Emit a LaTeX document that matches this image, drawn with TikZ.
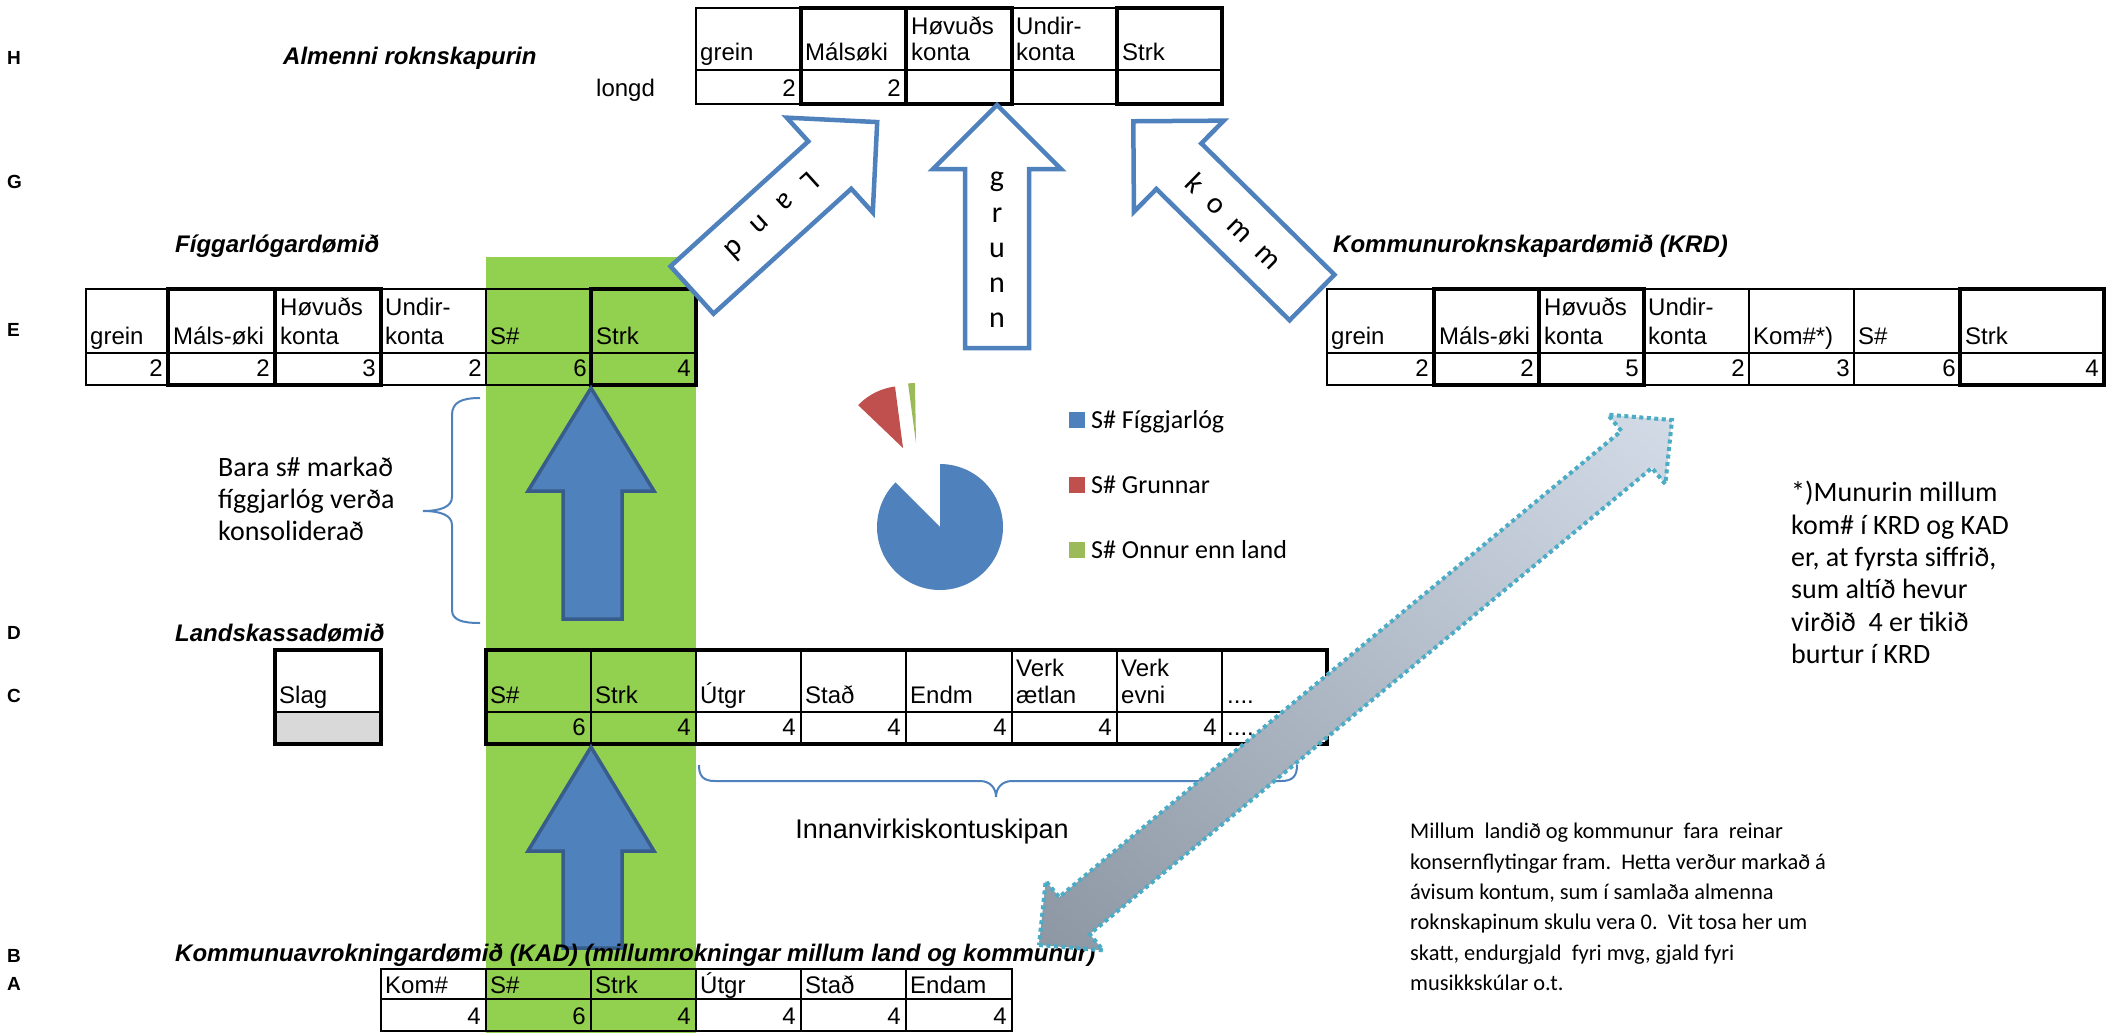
\documentclass[tikz,border=0pt]{standalone}
\usepackage{fontspec}
\usetikzlibrary{shadings}
\setmainfont{Liberation Sans}
\newfontfamily\calfont{Carlito}
\definecolor{band}{HTML}{92D050}
\definecolor{xlblue}{HTML}{4F81BD}
\definecolor{xldark}{HTML}{385D8A}
\definecolor{xlred}{HTML}{C0504D}
\definecolor{xlgreen}{HTML}{9BBB59}
\definecolor{aqua}{HTML}{4BACC6}
\definecolor{slaggray}{HTML}{D9D9D9}
\definecolor{arrlight}{HTML}{D2DBE6}
\definecolor{arrmid}{HTML}{B0BAC7}
\definecolor{arrdark}{HTML}{8D97A4}
\newcommand\tabf{\fontsize{24}{28}\selectfont}
\newcommand\titf{\fontsize{24}{28}\selectfont\bfseries\itshape}
\newcommand\rowf{\fontsize{19}{22}\selectfont\bfseries}
\newcommand\letf{\calfont\fontsize{30}{32}\selectfont}
\newcommand\notef{\calfont\fontsize{28}{32.4}\selectfont}
\newcommand\baraf{\calfont\fontsize{28}{31.7}\selectfont}
\newcommand\botf{\calfont\fontsize{22.4}{30.4}\selectfont}
\newcommand\legf{\calfont\fontsize{26}{30}\selectfont}
\begin{document}
\begin{tikzpicture}[x=1pt,y=-1pt,
  hd/.style={anchor=base west, inner sep=0pt, font=\tabf},
  vl/.style={anchor=base east, inner sep=0pt, font=\tabf},
  titl/.style={anchor=base west, inner sep=0pt, font=\titf},
  rowlab/.style={anchor=base west, inner sep=0pt, font=\rowf},
  cellln/.style={line width=1.5pt, draw=black},
  midln/.style={line width=2.5pt, draw=black},
  boxln/.style={line width=4.5pt, draw=black},
  hollow/.style={fill=white, draw=xlblue, line width=4.5pt, line join=miter},
  solidarr/.style={fill=xlblue, draw=xldark, line width=3.5pt, line join=miter},
  bracestyle/.style={draw=xlblue, line width=2pt},
  letter/.style={font=\letf, inner sep=0pt},
  legtext/.style={anchor=base west, inner sep=0pt, font=\legf}]
\useasboundingbox (0,0) rectangle (2111,1033);
\fill[white] (0,0) rectangle (2111,1033);
% green band
\fill[band] (486,257) rectangle (696,1033);

% row labels
\node[rowlab] (lH) at (7,64) {H};
\node[rowlab] (lG) at (7,188) {G};
\node[rowlab] (lE) at (7,336) {E};
\node[rowlab] (lD) at (7,639) {D};
\node[rowlab] (lC) at (7,702) {C};
\node[rowlab] (lB) at (7,962) {B};
\node[rowlab] (lA) at (7,990) {A};

% titles
\node[titl] (tH) at (283,64) {Almenni roknskapurin};
\node[titl] (tF) at (175,252) {Fíggarlógardømið};
\node[titl] (tK) at (1333,252) {Kommunuroknskapardømið (KRD)};
\node[titl] (tL) at (175,641) {Landskassadømið};
\node[hd] (longd) at (596,96) {longd};

% ---------- H table ----------
\fill[white] (696,8) rectangle (1222,104);
\draw[midln] (696,8) rectangle (1222,104);
\draw[cellln] (696,70) -- (1222,70);
\foreach \x in {801,906,1012,1117} \draw[cellln] (\x,8) -- (\x,104);
\foreach \a/\b in {801/906,906/1012,1117/1222} \draw[boxln] (\a,8) rectangle (\b,104);
\node[hd] (h1) at (700,61) {grein};
\node[hd] (h2) at (805,61) {Málsøki};
\node[hd] (h3a) at (911,35) {Høvuðs};
\node[hd] (h3b) at (911,61) {konta};
\node[hd] (h4a) at (1016,35) {Undir-};
\node[hd] (h4b) at (1016,61) {konta};
\node[hd] (h5) at (1122,61) {Strk};
\node[vl] (hv1) at (796,96) {2};
\node[vl] (hv2) at (901,96) {2};

% ---------- E table (Figgarlog) ----------
\fill[white] (86,289) rectangle (486,385);
\draw[midln] (86,289) rectangle (696,385);
\draw[cellln] (86,353) -- (696,353);
\foreach \x in {168,275,381,486,591} \draw[cellln] (\x,289) -- (\x,385);
\foreach \a/\b in {168/275,275/381,591/696} \draw[boxln] (\a,289) rectangle (\b,385);
\node[hd] (e1) at (90,344) {grein};
\node[hd] (e2) at (173,344) {Máls-øki};
\node[hd] (e3a) at (280,315) {Høvuðs};
\node[hd] (e3b) at (280,344) {konta};
\node[hd] (e4a) at (385,315) {Undir-};
\node[hd] (e4b) at (385,344) {konta};
\node[hd] (e5) at (490,344) {S\#};
\node[hd] (e6) at (596,344) {Strk};
\node[vl] (ev1) at (163,376) {2};
\node[vl] (ev2) at (270,376) {2};
\node[vl] (ev3) at (376,376) {3};
\node[vl] (ev4) at (482,376) {2};
\node[vl] (ev5) at (587,376) {6};
\node[vl] (ev6) at (691,376) {4};

% ---------- KRD table ----------
\fill[white] (1327,289) rectangle (2104,385);
\draw[midln] (1327,289) rectangle (2104,385);
\draw[cellln] (1327,353) -- (2104,353);
\foreach \x in {1434,1539,1644,1749,1854,1960} \draw[cellln] (\x,289) -- (\x,385);
\foreach \a/\b in {1434/1539,1539/1644,1960/2104} \draw[boxln] (\a,289) rectangle (\b,385);
\node[hd] (k1) at (1331,344) {grein};
\node[hd] (k2) at (1439,344) {Máls-øki};
\node[hd] (k3a) at (1544,315) {Høvuðs};
\node[hd] (k3b) at (1544,344) {konta};
\node[hd] (k4a) at (1648,315) {Undir-};
\node[hd] (k4b) at (1648,344) {konta};
\node[hd] (k5) at (1753,344) {Kom\#*)};
\node[hd] (k6) at (1858,344) {S\#};
\node[hd] (k7) at (1965,344) {Strk};
\node[vl] (kv1) at (1429,376) {2};
\node[vl] (kv2) at (1534,376) {2};
\node[vl] (kv3) at (1639,376) {5};
\node[vl] (kv4) at (1745,376) {2};
\node[vl] (kv5) at (1850,376) {3};
\node[vl] (kv6) at (1956,376) {6};
\node[vl] (kv7) at (2099,376) {4};

% ---------- Slag box ----------
\fill[white] (275,650) rectangle (381,712);
\fill[slaggray] (275,712) rectangle (381,744);
\draw[midln] (275,712) -- (381,712);
\draw[line width=3.5pt] (275,650) rectangle (381,744);
\node[hd] (slag) at (279,703) {Slag};

% ---------- C table (Landskassi) ----------
\fill[white] (696,650) rectangle (1327,744);
\draw[midln] (486,712) -- (1327,712);
\foreach \x in {591,696,801,906,1012,1117,1222} \draw[midln] (\x,650) -- (\x,744);
\draw[line width=4pt] (486,650) rectangle (1327,744);
\node[hd] (c1) at (490,703) {S\#};
\node[hd] (c2) at (595,703) {Strk};
\node[hd] (c3) at (700,703) {Útgr};
\node[hd] (c4) at (805,703) {Stað};
\node[hd] (c5) at (910,703) {Endm};
\node[hd] (c6a) at (1016,676) {Verk};
\node[hd] (c6b) at (1016,703) {ætlan};
\node[hd] (c7a) at (1121,676) {Verk};
\node[hd] (c7b) at (1121,703) {evni};
\node[hd] (c8) at (1227,703) {....};
\node[vl] (cv1) at (586,735) {6};
\node[vl] (cv2) at (691,735) {4};
\node[vl] (cv3) at (796,735) {4};
\node[vl] (cv4) at (901,735) {4};
\node[vl] (cv5) at (1007,735) {4};
\node[vl] (cv6) at (1112,735) {4};
\node[vl] (cv7) at (1217,735) {4};
\node[hd] (cv8) at (1227,735) {....};

% ---------- A table (KAD) ----------
\fill[white] (381,969) rectangle (486,1031);
\fill[white] (696,969) rectangle (1012,1031);
\draw[midln] (381,969) rectangle (1012,1031);
\draw[midln] (381,999) -- (1012,999);
\foreach \x in {486,591,696,801,906} \draw[midln] (\x,969) -- (\x,1031);
\node[hd] (a1) at (385,993) {Kom\#};
\node[hd] (a2) at (490,993) {S\#};
\node[hd] (a3) at (595,993) {Strk};
\node[hd] (a4) at (700,993) {Útgr};
\node[hd] (a5) at (805,993) {Stað};
\node[hd] (a6) at (910,993) {Endam};
\node[vl] (av1) at (481,1024) {4};
\node[vl] (av2) at (586,1024) {6};
\node[vl] (av3) at (691,1024) {4};
\node[vl] (av4) at (796,1024) {4};
\node[vl] (av5) at (901,1024) {4};
\node[vl] (av6) at (1007,1024) {4};

% ---------- solid blue arrows ----------
\draw[solidarr] (563,619) -- (563,491) -- (528,491) -- (591,388) -- (654,491) -- (622,491) -- (622,619) -- cycle;
\draw[solidarr] (563,948) -- (563,851) -- (528,851) -- (591,747) -- (654,851) -- (622,851) -- (622,948) -- cycle;
\node[titl] (tKAD) at (175,961) {Kommunuavrokningardømið (KAD) (millumrokningar millum land og kommunur)};

% ---------- hollow arrows ----------
\begin{scope}[shift={(692,290)}, rotate=42.2]
\draw[hollow] (0,-32) -- (186,-32) -- (186,-64) -- (250,0) -- (186,64) -- (186,32) -- (0,32) -- cycle;
\end{scope}
\begin{scope}[shift={(997,348)}, rotate=90]
\draw[hollow] (0,-32) -- (179,-32) -- (179,-64) -- (243,0) -- (179,64) -- (179,32) -- (0,32) -- cycle;
\end{scope}
\begin{scope}[shift={(1312,297.5)}, rotate=135.4]
\draw[hollow] (0,-32) -- (187,-32) -- (187,-64) -- (251,0) -- (187,64) -- (187,32) -- (0,32) -- cycle;
\end{scope}
\node[letter, rotate=222.2] (landtxt) at (772.7,216.8)
  {L\hspace{12pt} a\hspace{12pt} n\hspace{12pt} d};
\node[letter] (gr1) at (997,182) {g};
\node[letter] (gr2) at (997,215) {r};
\node[letter] (gr3) at (997,250) {u};
\node[letter] (gr4) at (997,285) {n};
\node[letter] (gr5) at (997,320) {n};
\node[letter, rotate=-44.6] (komtxt) at (1234.4,221)
  {k\hspace{8pt} o\hspace{8pt} m\hspace{8pt} m};

% ---------- braces ----------
\draw[bracestyle] (480,398) .. controls (462,398) and (452,402) .. (452,415) -- (452,497)
  .. controls (452,507) and (440,511) .. (423,511) .. controls (440,511) and (452,515) .. (452,525)
  -- (452,610) .. controls (452,620) and (462,623) .. (480,623);
\draw[bracestyle] (699,765) .. controls (699,776) and (703,781) .. (715,781) -- (980,781)
  .. controls (990,781) and (996,788) .. (996,797) .. controls (996,788) and (1002,781) .. (1012,781)
  -- (1281,781) .. controls (1293,781) and (1297,776) .. (1297,765);
\node[anchor=center, inner sep=0pt, font=\fontsize{27}{30}\selectfont] (innan) at (932,832) {Innanvirkiskontuskipan};

% ---------- pie ----------
\fill[xlblue] (940,527) -- plot[domain=135:450, samples=90] ({940+63*cos(\x)}, {527-63*sin(\x)}) -- cycle;
\fill[xlred] (903,448) -- plot[domain=97.4:136.3, samples=20] ({903+62*cos(\x)}, {448-62*sin(\x)}) -- cycle;
\fill[xlgreen] (916,443) -- plot[domain=91:97.6, samples=8] ({916+60*cos(\x)}, {443-60*sin(\x)}) -- cycle;
\fill[xlblue] (1069,412) rectangle (1085,428);
\fill[xlred] (1069,477) rectangle (1085,493);
\fill[xlgreen] (1069,542) rectangle (1085,558);
\node[legtext] (lg1) at (1091,428) {S\# Fíggjarlóg};
\node[legtext] (lg2) at (1091,493) {S\# Grunnar};
\node[legtext] (lg3) at (1091,558) {S\# Onnur enn land};

% ---------- notes ----------
\node[anchor=north west, inner sep=0pt, align=left, font=\baraf] (bara) at (218,457)
  {Bara s\# markað\\fíggjarlóg verða\\konsoliderað};
\node[anchor=north west, inner sep=0pt, align=left, font=\notef] (munur) at (1791,481)
  {*)Munurin millum\\kom\# í KRD og KAD\\er, at fyrsta siffrið,\\sum altíð hevur\\virðið\ \ 4 er tikið\\burtur í KRD};
\node[anchor=north west, inner sep=0pt, align=left, font=\botf] (millum) at (1410,823)
  {Millum\ \ landið og kommunur\ \ fara\ \ reinar\\konsernflytingar fram.\ \ Hetta verður markað á\\ávisum kontum, sum í samlaða almenna\\roknskapinum skulu vera 0.\ \ Vit tosa her um\\skatt, endurgjald\ \ fyri mvg, gjald fyri\\musikkskúlar o.t.};

% ---------- big double arrow ----------
\shade[upper right=arrlight, upper left=arrmid, lower right=arrmid, lower left=arrdark]
  (1039,945) -- (1103.1,950.3) -- (1089.7,934.1) -- (1651.9,467.9) -- (1665.3,484.1) -- (1672,420)
  -- (1607.9,414.7) -- (1621.3,430.9) -- (1059.1,897.1) -- (1045.7,880.9) -- cycle;
\draw[aqua, line width=4pt, dash pattern=on 4pt off 3.5pt, line join=miter]
  (1039,945) -- (1103.1,950.3) -- (1089.7,934.1) -- (1651.9,467.9) -- (1665.3,484.1) -- (1672,420)
  -- (1607.9,414.7) -- (1621.3,430.9) -- (1059.1,897.1) -- (1045.7,880.9) -- cycle;
\end{tikzpicture}
\end{document}
